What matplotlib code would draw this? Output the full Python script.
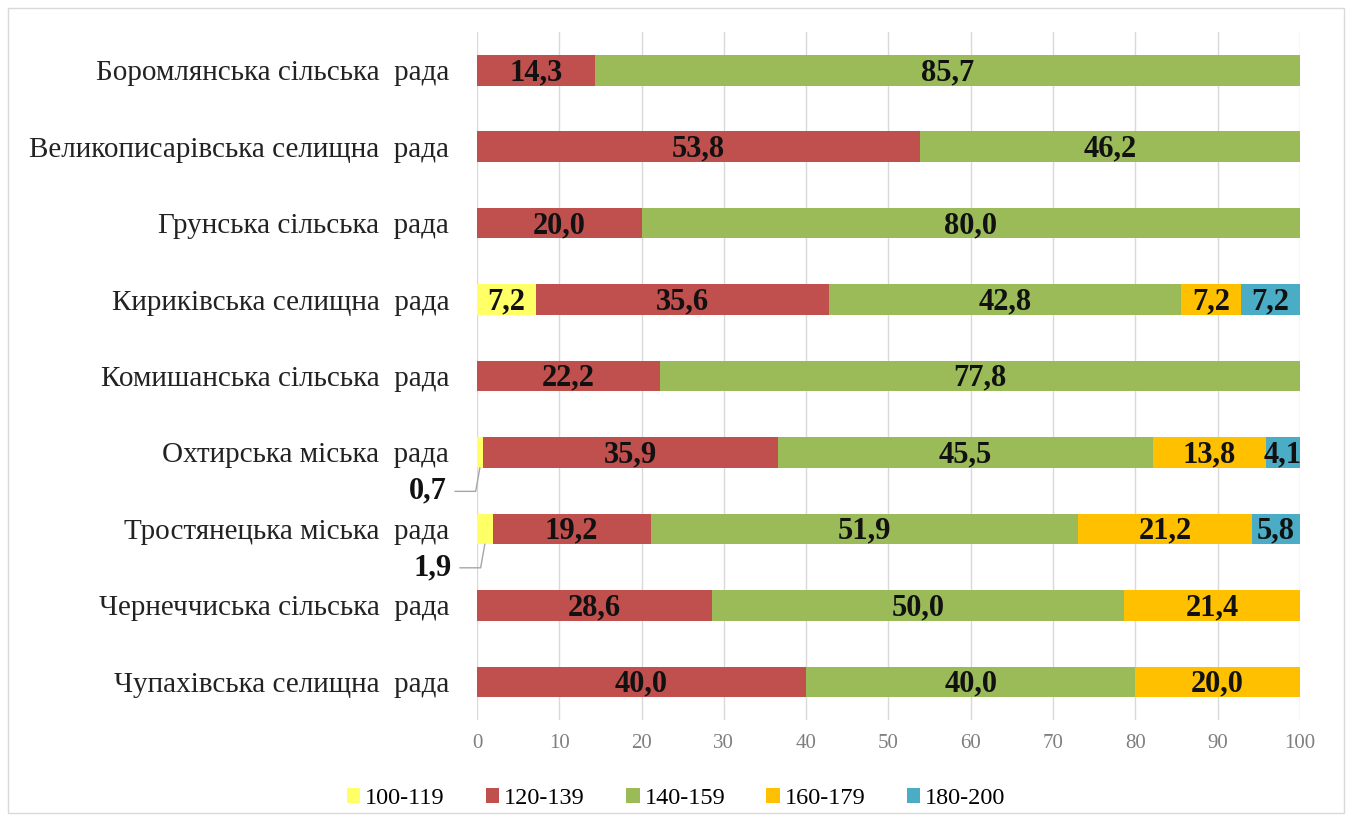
import numpy as np
import matplotlib.pyplot as plt
from matplotlib.patches import Rectangle

# ---- data ----
councils = ['Боромлянська сільська  рада',
            'Великописарівська селищна  рада',
            'Грунська сільська  рада',
            'Кириківська селищна  рада',
            'Комишанська сільська  рада',
            'Охтирська міська  рада',
            'Тростянецька міська  рада',
            'Чернеччиська сільська  рада',
            'Чупахівська селищна  рада']
groups = ['100-119', '120-139', '140-159', '160-179', '180-200']
g100 = [0, 0, 0, 7.2, 0, 0.7, 1.9, 0, 0]
g120 = [14.3, 53.8, 20.0, 35.6, 22.2, 35.9, 19.2, 28.6, 40.0]
g140 = [85.7, 46.2, 80.0, 42.8, 77.8, 45.5, 51.9, 50.0, 40.0]
g160 = [0, 0, 0, 7.2, 0, 13.8, 21.2, 21.4, 20.0]
g180 = [0, 0, 0, 7.2, 0, 4.1, 5.8, 0, 0]
xticks = list(range(0, 101, 10))

colors = ['#FFFF66', '#C0504D', '#9BBB59', '#FFC000', '#4BACC6']

plt.rcParams['font.family'] = ['Liberation Serif', 'DejaVu Serif']

fig = plt.figure(figsize=(13.52, 8.21), dpi=100)
ax = fig.add_axes([0.3528, 0.123, 0.6087, 0.838])

series = [g100, g120, g140, g160, g180]
y = np.arange(len(councils))
left = np.zeros(len(councils))
for vals, col, name in zip(series, colors, groups):
    vals = np.array(vals, dtype=float)
    ax.barh(y, vals, left=left, height=0.4, color=col, label=name, zorder=3)
    for i, v in enumerate(vals):
        if v >= 3:
            ax.text(left[i] + v / 2, y[i] + 0.03, '{:.1f}'.format(v).replace('.', ','),
                    ha='center', va='center', fontsize=22, fontweight='bold',
                    color='#111111', zorder=4)
        elif v > 0:
            # small values get a leader line below the bar
            ax.annotate('{:.1f}'.format(v).replace('.', ','),
                        xy=(left[i] + v / 2, y[i] + 0.2),
                        xytext=(-24, -17), textcoords='offset points',
                        ha='right', va='center', fontsize=22, fontweight='bold',
                        color='#111111', annotation_clip=False,
                        arrowprops=dict(arrowstyle='-', color='#A6A6A6', lw=1,
                                        shrinkA=4, shrinkB=0,
                                        connectionstyle='angle,angleA=0,angleB=80,rad=0'))
    left += vals

ax.set_yticks(y)
ax.set_yticklabels(councils, fontsize=21, color='#222222')
ax.set_ylim(len(councils) - 0.5, -0.5)
ax.set_xlim(0, 100)
ax.set_xticks(xticks)
ax.tick_params(axis='x', labelsize=15, colors='#7F7F7F', length=0, pad=10)
ax.tick_params(axis='y', length=0, pad=20)
ax.grid(axis='x', color='#D9D9D9', lw=1, zorder=0)
for s in ax.spines.values():
    s.set_visible(False)

fig.legend(loc='lower center', bbox_to_anchor=(0.5, -0.012), ncol=5,
           frameon=False, fontsize=17.5, handlelength=0.55, handleheight=0.55,
           columnspacing=1.7, handletextpad=0.2)

fig.add_artist(Rectangle((0.006, 0.01), 0.988, 0.98, transform=fig.transFigure,
                         fill=False, edgecolor='#D9D9D9', lw=1))

plt.savefig('out.png', dpi=100)
